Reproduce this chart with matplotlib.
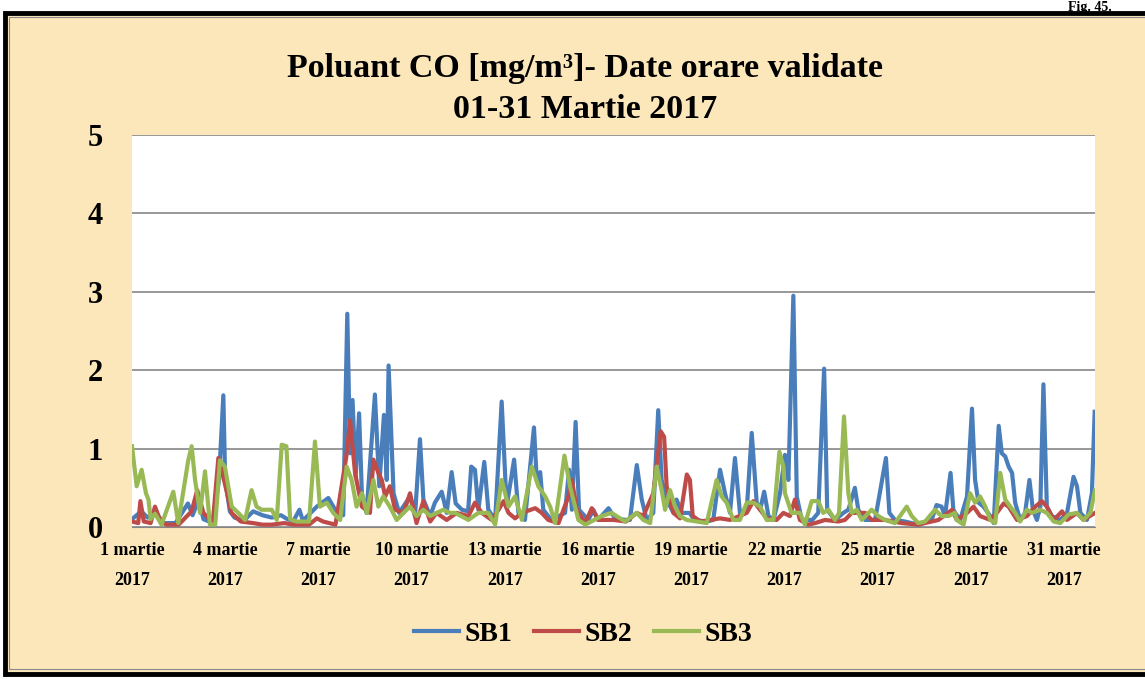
import matplotlib.pyplot as plt
from matplotlib.patches import Rectangle

# hourly CO readings as (day since 1 March 00:00, mg/m3)
sb1 = [(0, 0.10), (0.3, 0.2), (0.5, 0.12), (0.75, 0.2), (1.0, 0.05), (1.4, 0.05), (1.8, 0.3),
       (1.95, 0.15), (2.15, 0.35), (2.3, 0.1), (2.6, 0.05), (2.8, 0.6), (2.94, 1.68), (3.0, 0.6),
       (3.15, 0.2), (3.3, 0.12), (3.6, 0.08), (3.9, 0.2), (4.2, 0.15), (4.5, 0.12), (4.8, 0.15),
       (5.0, 0.1), (5.2, 0.08), (5.39, 0.22), (5.5, 0.08), (5.95, 0.26), (6.32, 0.37), (6.6, 0.18),
       (6.8, 0.15), (6.93, 2.72), (7.02, 0.94), (7.1, 1.62), (7.2, 0.64), (7.31, 1.45), (7.4, 0.43),
       (7.55, 0.18), (7.82, 1.69), (7.96, 0.52), (8.11, 1.43), (8.2, 0.6), (8.26, 2.06), (8.42, 0.43),
       (8.6, 0.18), (8.95, 0.39), (9.11, 0.14), (9.27, 1.12), (9.38, 0.35), (9.6, 0.14), (9.75, 0.31),
       (9.97, 0.45), (10.13, 0.18), (10.29, 0.7), (10.42, 0.3), (10.62, 0.22), (10.82, 0.2),
       (10.92, 0.77), (11.04, 0.73), (11.15, 0.22), (11.34, 0.83), (11.47, 0.22), (11.69, 0.09),
       (11.9, 1.6), (12.06, 0.26), (12.3, 0.86), (12.44, 0.18), (12.65, 0.09), (12.94, 1.27),
       (13.03, 0.6), (13.14, 0.7), (13.24, 0.22), (13.5, 0.09), (13.94, 0.18), (14.07, 0.73),
       (14.16, 0.22), (14.28, 1.34), (14.39, 0.22), (14.69, 0.09), (14.85, 0.22), (15.0, 0.09),
       (15.34, 0.24), (15.55, 0.11), (15.9, 0.09), (16.03, 0.09), (16.25, 0.79), (16.41, 0.35),
       (16.57, 0.09), (16.78, 0.18), (16.94, 1.49), (17.05, 0.6), (17.21, 0.35), (17.43, 0.18),
       (17.53, 0.35), (17.7, 0.18), (17.95, 0.18), (18.1, 0.09), (18.5, 0.07), (18.71, 0.09),
       (18.93, 0.73), (19.09, 0.43), (19.25, 0.18), (19.41, 0.88), (19.57, 0.18), (19.79, 0.22),
       (19.95, 1.2), (20.11, 0.31), (20.22, 0.22), (20.35, 0.45), (20.49, 0.14), (20.65, 0.09),
       (20.86, 0.43), (21.02, 0.92), (21.13, 0.6), (21.29, 2.95), (21.4, 0.39), (21.56, 0.09),
       (21.9, 0.09), (22.09, 0.18), (22.28, 2.02), (22.38, 0.22), (22.63, 0.09), (22.9, 0.18),
       (23.06, 0.22), (23.27, 0.5), (23.38, 0.22), (23.6, 0.09), (23.92, 0.09), (24.27, 0.88),
       (24.38, 0.18), (24.56, 0.09), (24.88, 0.07), (25.31, 0.03), (25.74, 0.09), (25.9, 0.28),
       (26.06, 0.26), (26.17, 0.14), (26.35, 0.69), (26.44, 0.22), (26.5, 0.18), (26.66, 0.09),
       (26.88, 0.39), (27.04, 1.51), (27.14, 0.6), (27.25, 0.31), (27.41, 0.26), (27.63, 0.14),
       (27.74, 0.05), (27.9, 1.29), (28.0, 0.94), (28.11, 0.9), (28.22, 0.77), (28.33, 0.69),
       (28.43, 0.31), (28.59, 0.09), (28.75, 0.18), (28.89, 0.6), (29.0, 0.22), (29.13, 0.09),
       (29.24, 0.26), (29.34, 1.82), (29.45, 0.26), (29.61, 0.14), (29.88, 0.09), (30.1, 0.18),
       (30.31, 0.64), (30.42, 0.52), (30.53, 0.18), (30.74, 0.09), (30.9, 0.43), (30.99, 1.47)]

sb2 = [(0, 0.07), (0.2, 0.05), (0.27, 0.33), (0.38, 0.07), (0.6, 0.05), (0.74, 0.26), (0.9, 0.09),
       (1.1, 0.03), (1.5, 0.03), (1.92, 0.2), (2.1, 0.47), (2.3, 0.18), (2.6, 0.05), (2.78, 0.88),
       (2.9, 0.7), (3.05, 0.45), (3.2, 0.18), (3.5, 0.07), (3.9, 0.05), (4.2, 0.03), (4.5, 0.03),
       (4.9, 0.05), (5.2, 0.03), (5.7, 0.03), (5.95, 0.11), (6.15, 0.07), (6.55, 0.03), (6.9, 0.9),
       (7.02, 1.36), (7.18, 0.69), (7.29, 0.47), (7.4, 0.26), (7.66, 0.18), (7.77, 0.86),
       (7.93, 0.69), (8.04, 0.6), (8.15, 0.39), (8.3, 0.52), (8.47, 0.22), (8.74, 0.18),
       (8.95, 0.43), (9.16, 0.05), (9.38, 0.33), (9.6, 0.07), (9.8, 0.18), (10.13, 0.09),
       (10.45, 0.18), (10.83, 0.14), (11.04, 0.31), (11.26, 0.18), (11.58, 0.09), (11.8, 0.22),
       (11.96, 0.33), (12.12, 0.18), (12.33, 0.11), (12.55, 0.18), (12.98, 0.24), (13.19, 0.18),
       (13.4, 0.09), (13.73, 0.05), (14.05, 0.39), (14.16, 0.6), (14.32, 0.22), (14.59, 0.05),
       (14.8, 0.24), (15.01, 0.09), (15.5, 0.09), (15.9, 0.07), (16.25, 0.18), (16.46, 0.14),
       (16.78, 0.43), (17.02, 1.22), (17.13, 1.15), (17.21, 0.52), (17.43, 0.18), (17.64, 0.11),
       (17.86, 0.67), (17.96, 0.6), (18.05, 0.14), (18.3, 0.07), (18.93, 0.11), (19.25, 0.09),
       (19.79, 0.18), (20.0, 0.33), (20.22, 0.22), (20.43, 0.11), (20.75, 0.09), (20.97, 0.18),
       (21.18, 0.14), (21.34, 0.35), (21.5, 0.09), (21.77, 0.03), (21.99, 0.05), (22.31, 0.09),
       (22.74, 0.07), (22.95, 0.09), (23.17, 0.18), (23.6, 0.18), (23.81, 0.09), (24.24, 0.09),
       (24.78, 0.05), (25.31, 0.03), (25.96, 0.09), (26.4, 0.22), (26.55, 0.09), (26.88, 0.18),
       (27.09, 0.26), (27.3, 0.14), (27.63, 0.09), (27.84, 0.18), (28.06, 0.3), (28.22, 0.26),
       (28.49, 0.09), (28.81, 0.14), (29.08, 0.26), (29.29, 0.33), (29.45, 0.26), (29.67, 0.09),
       (29.94, 0.2), (30.1, 0.09), (30.42, 0.18), (30.63, 0.09), (31.0, 0.18)]

sb3 = [(0, 1.03), (0.15, 0.52), (0.31, 0.73), (0.45, 0.43), (0.53, 0.35), (0.6, 0.1), (0.74, 0.17),
       (0.95, 0.03), (1.33, 0.45), (1.49, 0.05), (1.81, 0.85), (1.92, 1.03), (2.03, 0.6), (2.19, 0.18),
       (2.35, 0.71), (2.51, 0.03), (2.68, 0.03), (2.83, 0.85), (2.99, 0.77), (3.21, 0.26), (3.42, 0.18),
       (3.64, 0.09), (3.85, 0.47), (4.01, 0.26), (4.17, 0.22), (4.5, 0.22), (4.66, 0.09), (4.82, 1.05),
       (4.97, 1.03), (5.09, 0.1), (5.3, 0.07), (5.7, 0.07), (5.89, 1.09), (6.05, 0.26), (6.27, 0.31),
       (6.48, 0.18), (6.7, 0.09), (6.91, 0.77), (7.07, 0.6), (7.23, 0.26), (7.4, 0.43), (7.56, 0.18),
       (7.77, 0.6), (7.93, 0.26), (8.09, 0.39), (8.3, 0.26), (8.52, 0.09), (8.74, 0.18), (8.95, 0.26),
       (9.16, 0.14), (9.38, 0.22), (9.6, 0.14), (9.81, 0.18), (10.02, 0.22), (10.24, 0.18),
       (10.4, 0.18), (10.83, 0.09), (11.15, 0.18), (11.47, 0.18), (11.69, 0.03), (11.9, 0.6),
       (12.12, 0.26), (12.33, 0.39), (12.55, 0.09), (12.87, 0.77), (13.08, 0.52), (13.3, 0.39),
       (13.46, 0.26), (13.62, 0.05), (13.92, 0.91), (14.1, 0.52), (14.37, 0.09), (14.59, 0.03),
       (15.12, 0.14), (15.44, 0.18), (15.87, 0.07), (16.25, 0.18), (16.46, 0.09), (16.68, 0.05),
       (16.89, 0.77), (17.05, 0.47), (17.16, 0.22), (17.32, 0.47), (17.48, 0.26), (17.64, 0.14),
       (17.86, 0.09), (18.5, 0.05), (18.82, 0.6), (18.98, 0.39), (19.14, 0.31), (19.36, 0.09),
       (19.57, 0.09), (19.79, 0.31), (20.0, 0.31), (20.22, 0.26), (20.43, 0.09), (20.65, 0.09),
       (20.84, 0.96), (20.97, 0.77), (21.02, 0.43), (21.23, 0.18), (21.5, 0.18), (21.66, 0.03),
       (21.88, 0.33), (22.09, 0.33), (22.25, 0.18), (22.42, 0.22), (22.63, 0.09), (22.76, 0.18),
       (22.92, 1.41), (23.06, 0.43), (23.17, 0.18), (23.33, 0.22), (23.49, 0.09), (23.81, 0.22),
       (24.02, 0.14), (24.24, 0.09), (24.56, 0.05), (24.94, 0.26), (25.1, 0.14), (25.31, 0.05),
       (25.53, 0.07), (25.85, 0.22), (26.06, 0.14), (26.28, 0.14), (26.49, 0.18), (26.55, 0.09),
       (26.77, 0.03), (26.98, 0.43), (27.14, 0.31), (27.3, 0.39), (27.47, 0.26), (27.63, 0.09),
       (27.79, 0.05), (27.95, 0.69), (28.11, 0.35), (28.27, 0.26), (28.43, 0.18), (28.59, 0.07),
       (28.81, 0.22), (28.97, 0.18), (29.24, 0.22), (29.45, 0.18), (29.67, 0.07), (29.88, 0.05),
       (30.15, 0.16), (30.42, 0.18), (30.63, 0.09), (30.85, 0.18), (31.0, 0.47)]

series = [('SB1', sb1, '#4A7EBB'), ('SB2', sb2, '#BE4B48'), ('SB3', sb3, '#98B954')]
tick_days = list(range(0, 31, 3))
tick_labels = [f'{d + 1} martie\n2017' for d in tick_days]
y_ticks = [0, 1, 2, 3, 4, 5]

plt.rcParams['font.family'] = ['Liberation Serif', 'DejaVu Serif']
plt.rcParams['font.weight'] = 'bold'

W, H = 1145, 679
fig = plt.figure(figsize=(W / 100, H / 100), dpi=100)
fig.patch.set_facecolor('white')

# beige frame with black border (right side runs past the picture edge)
fig.patches.append(Rectangle((5 / W, 1 - 674 / H), 1.05, 661 / H, transform=fig.transFigure,
                             facecolor='#FCE7BA', edgecolor='black', linewidth=3.5, zorder=0))
fig.patches.append(Rectangle((9 / W, 1 - 669 / H), 1.05, 652 / H, transform=fig.transFigure,
                             facecolor='none', edgecolor='#8a8a8a', linewidth=0.8, zorder=0))
fig.text(1112 / W, 1 - 1 / H, 'Fig. 45.', ha='right', va='top', fontsize=10)

ax = fig.add_axes([132 / W, 1 - 527 / H, (1095 - 132) / W, (527 - 135) / H])
ax.set_zorder(2)
ax.set_facecolor('white')

for name, pts, col in series:
    days = [p[0] for p in pts]
    vals = [p[1] for p in pts]
    ax.plot(days, vals, color=col, lw=3.0, label=name, solid_joinstyle='round')

ax.set_xlim(0, 31)
ax.set_ylim(0, 5)
ax.set_yticks(y_ticks)
ax.set_yticklabels([str(v) for v in y_ticks], fontsize=22, fontweight='bold')
ax.set_xticks(tick_days)
ax.set_xticklabels(tick_labels, fontsize=13, fontweight='bold', linespacing=2.0)
ax.tick_params(axis='y', length=0, pad=21)
ax.tick_params(axis='x', length=0, pad=11)
ax.grid(axis='y', color='#868686', lw=1.2)
ax.set_axisbelow(True)
for s in ['left', 'right', 'top']:
    ax.spines[s].set_visible(False)
ax.spines['bottom'].set_color('#868686')

fig.text(585 / W, 1 - 68 / H, 'Poluant CO [mg/m³]- Date orare validate', ha='center',
         va='center', fontsize=24.5, fontweight='bold')
fig.text(585 / W, 1 - 110 / H, '01-31 Martie 2017', ha='center', va='center', fontsize=24.5,
         fontweight='bold')

fig.legend(loc='center', bbox_to_anchor=(583 / W, 1 - 634 / H), ncol=3, frameon=False,
           prop={'size': 20, 'weight': 'bold'}, handlelength=1.6, columnspacing=0.8,
           handletextpad=0.2)

fig.savefig('out.png', dpi=100)
